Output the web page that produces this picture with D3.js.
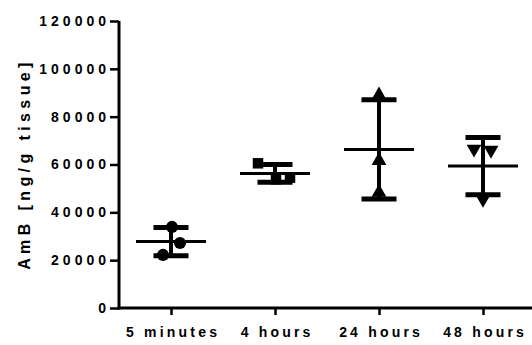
<!DOCTYPE html>
<html>
<head>
<meta charset="utf-8">
<script src="https://cdn.jsdelivr.net/npm/d3@7"></script>
<style>
  body { margin: 0; background: #fff; }
  text { font-family: "Liberation Sans", Arial, sans-serif; font-weight: bold; fill: #000; }
</style>
</head>
<body>
<svg id="chart" width="532" height="345"></svg>
<script>
// groups on the x axis
var categories = ['5 minutes', '4 hours', '24 hours', '48 hours'];
var shapes = ['circle', 'square', 'triangle', 'triangleDown'];

// individual values per group (ng/g tissue)
var values5min = [33900, 27200, 22200];
var values4h = [60500, 53800, 54500];
var values24h = [89000, 61600, 48300];
var values48h = [66500, 66000, 45500];

// horizontal scatter of the points, px
var jitter5min = [1, 9, -8];
var jitter4h = [-17, 1, 15];
var jitter24h = [0, 0, 0];
var jitter48h = [-9, 8, 0];

var yTicks = [0, 20000, 40000, 60000, 80000, 100000, 120000];

var groups = [
    {name: categories[0], vals: values5min, jit: jitter5min, shape: shapes[0]},
    {name: categories[1], vals: values4h, jit: jitter4h, shape: shapes[1]},
    {name: categories[2], vals: values24h, jit: jitter24h, shape: shapes[2]},
    {name: categories[3], vals: values48h, jit: jitter48h, shape: shapes[3]}
];

var svg = d3.select('#chart');
var pLeft = 119, pRight = 535, pTop = 21, pBottom = 308;

var x = d3.scalePoint().domain(categories).range([pLeft, pRight]).padding(0.5);
var y = d3.scaleLinear().domain([0, 120000]).range([pBottom, pTop]);

// y axis
var yAxis = svg.append('g').attr('transform', 'translate(' + pLeft + ',0)')
    .call(d3.axisLeft(y).tickValues(yTicks).tickSize(9).tickPadding(4).tickFormat(d3.format('d')));
yAxis.select('.domain').attr('stroke-width', 3).attr('d', 'M0,' + pTop + 'V' + (pBottom + 1.5));
yAxis.selectAll('.tick line').attr('stroke-width', 2.5);
yAxis.selectAll('.tick text').style('font-size', '14px').style('letter-spacing', '4px')
    .attr('dx', '4px');

// x axis
var xAxis = svg.append('g').attr('transform', 'translate(0,' + pBottom + ')')
    .call(d3.axisBottom(x).tickSize(7).tickPadding(12));
xAxis.select('.domain').attr('stroke-width', 3).attr('d', 'M' + (pLeft - 1.5) + ',0H532');
xAxis.selectAll('.tick line').attr('stroke-width', 2.5);
xAxis.selectAll('.tick text').style('font-size', '14px').style('letter-spacing', '3.2px')
    .attr('dx', '1.6px');

svg.append('text')
    .attr('transform', 'translate(30,164) rotate(-90)')
    .attr('text-anchor', 'middle')
    .style('font-size', '16px')
    .style('letter-spacing', '4.4px')
    .text('AmB [ng/g tissue]');

var sym = {
    circle: d3.symbol().type(d3.symbolCircle).size(115),
    square: d3.symbol().type(d3.symbolSquare).size(110),
    triangle: d3.symbol().type(d3.symbolTriangle).size(95),
    triangleDown: d3.symbol().type(d3.symbolTriangle).size(95)
};

var g = svg.selectAll('g.group').data(groups).enter().append('g').attr('class', 'group');

g.each(function (d) {
    var el = d3.select(this);
    var cx = x(d.name);
    var m = d3.mean(d.vals), sd = d3.deviation(d.vals);

    el.selectAll('path.pt').data(d.vals).enter().append('path')
        .attr('class', 'pt')
        .attr('d', sym[d.shape])
        .attr('transform', function (v, i) {
            var r = d.shape === 'triangleDown' ? ' rotate(180)' : '';
            return 'translate(' + (cx + d.jit[i]) + ',' + y(v) + ')' + r;
        })
        .attr('fill', '#000');

    // error bar (mean ± SD)
    el.append('line').attr('x1', cx).attr('x2', cx).attr('y1', y(m + sd)).attr('y2', y(m - sd))
        .attr('stroke', '#000').attr('stroke-width', 4);
    [m + sd, m - sd].forEach(function (v) {
        el.append('line').attr('x1', cx - 17.5).attr('x2', cx + 17.5).attr('y1', y(v)).attr('y2', y(v))
            .attr('stroke', '#000').attr('stroke-width', 5);
    });
    el.append('line').attr('x1', cx - 35).attr('x2', cx + 35).attr('y1', y(m)).attr('y2', y(m))
        .attr('stroke', '#000').attr('stroke-width', 3);
});
</script>
</body>
</html>
